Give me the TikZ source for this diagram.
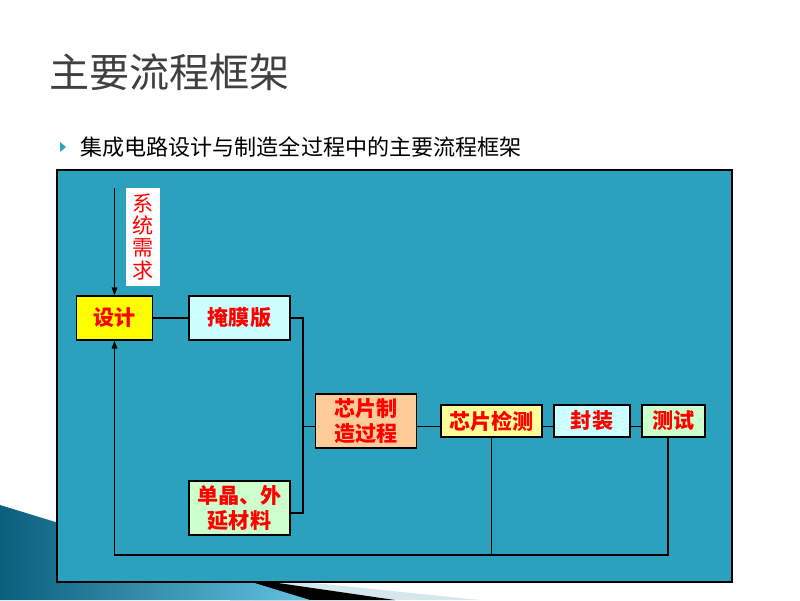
\documentclass[tikz,border=0pt]{standalone}
\usepackage{fontspec}
\newfontfamily\cjk{Noto Sans CJK SC}
\usetikzlibrary{arrows.meta}
\definecolor{frameteal}{RGB}{44,161,190}
\definecolor{bulletteal}{RGB}{48,160,190}
\definecolor{titlegrey}{RGB}{64,64,64}
\definecolor{cyanbox}{RGB}{204,255,255}
\definecolor{greenbox}{RGB}{204,255,204}
\definecolor{peachbox}{RGB}{255,204,153}
\definecolor{lyellowbox}{RGB}{255,255,153}
\definecolor{yellowbox}{RGB}{255,255,0}
\definecolor{swdark}{RGB}{10,95,125}
\definecolor{swlight}{RGB}{100,195,225}
\definecolor{swpale}{RGB}{212,230,238}
\begin{document}
\begin{tikzpicture}[x=0.025cm,y=-0.025cm,
  box/.style={draw=black, line width=0.8pt, inner sep=0pt, text=red,
    font=\cjk\bfseries\fontsize{15}{17.5}\selectfont, align=center},
  conn/.style={draw=black, line width=0.8pt},
  arr/.style={conn, -{Triangle[length=0.2cm,width=0.14cm]}}]
\useasboundingbox (0,0) rectangle (800,600);
\fill[white] (0,0) rectangle (800,600);
% decorative swoosh bottom left
\fill[swpale] (255,577) -- (480,600) -- (255,600) -- cycle;
\fill[black] (230,576) -- (395,600) -- (230,600) -- cycle;
\shade[left color=swdark, right color=swlight] (0,505) -- (310,600) -- (0,600) -- cycle;
% title and bullet
\node[anchor=west, inner sep=0pt, text=titlegrey, font=\cjk\fontsize{28.5}{34}\selectfont] (title) at (49,72) {主要流程框架};
\fill[bulletteal] (60,142) -- (66,147) -- (60,152) -- cycle;
\node[anchor=west, inner sep=0pt, text=black, font=\cjk\fontsize{15.7}{18}\selectfont] (sub) at (80,147) {集成电路设计与制造全过程中的主要流程框架};
% frame
\draw[fill=frameteal, line width=0.8pt] (57,170) rectangle (732,582);
% requirement label
\node[fill=white, inner sep=0pt, text=red, minimum width=34*0.025cm, minimum height=98*0.025cm,
  align=center, font=\cjk\fontsize{15}{15.7}\selectfont] (req) at (143,237) {系\\统\\需\\求};
% boxes
\node[box, fill=yellowbox, minimum width=76*0.025cm, minimum height=44*0.025cm] (design) at (114.5,318) {设计};
\node[box, fill=cyanbox, minimum width=101*0.025cm, minimum height=44*0.025cm] (mask) at (239.5,318) {掩膜版};
\node[box, fill=greenbox, minimum width=101*0.025cm, minimum height=54*0.025cm] (wafer) at (239.5,508) {单晶、外\\延材料};
\node[box, fill=peachbox, minimum width=101*0.025cm, minimum height=54*0.025cm] (fab) at (366,421) {芯片制\\造过程};
\node[box, fill=lyellowbox, minimum width=101*0.025cm, minimum height=32*0.025cm] (insp) at (491.5,421) {芯片检测};
\node[box, fill=cyanbox, minimum width=76*0.025cm, minimum height=32*0.025cm] (pack) at (592,421) {封装};
\node[box, fill=greenbox, minimum width=63*0.025cm, minimum height=32*0.025cm] (test) at (673.5,421) {测试};
% helper coordinates
\coordinate (top) at (114.5,188);
\coordinate (j1) at (303,318);
\coordinate (j2) at (303,513);
\coordinate (bus) at (0,426.5);
\coordinate (fb) at (0,555);
\coordinate (tx) at (668,0);
% connectors
\draw[arr] (top) -- (design.north);
\draw[conn] (design.east) -- (mask.west);
\draw[conn] (mask.east) -- (j1) -- (j2) -- (wafer.east |- j2);
\draw[conn] (j1 |- bus) -- (fab.west |- bus);
\draw[conn] (fab.east |- bus) -- (insp.west |- bus);
\draw[conn] (insp.east |- bus) -- (pack.west |- bus);
\draw[conn] (pack.east |- bus) -- (test.west |- bus);
\draw[conn] (insp.south) -- (insp.south |- fb);
\draw[arr] (tx |- test.south) -- (tx |- fb) -- (design.south |- fb) -- (design.south);
\end{tikzpicture}
\end{document}
